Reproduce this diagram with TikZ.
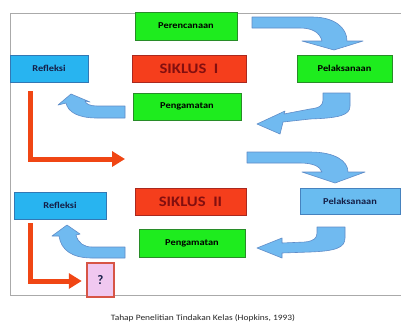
\documentclass[tikz,border=0pt]{standalone}
\usepackage{fontspec}
\setmainfont{Carlito}
\newfontfamily\lblfont[FakeStretch=1.15]{Carlito}
\usetikzlibrary{arrows.meta}
\definecolor{gbox}{RGB}{30,236,30}
\definecolor{gedge}{RGB}{40,140,40}
\definecolor{cbox}{RGB}{40,180,240}
\definecolor{cedge}{RGB}{50,120,180}
\definecolor{lbox}{RGB}{105,188,240}
\definecolor{ledge}{RGB}{70,130,190}
\definecolor{rbox}{RGB}{245,62,28}
\definecolor{redge}{RGB}{170,40,30}
\definecolor{rtext}{RGB}{130,15,15}
\definecolor{barfill}{RGB}{112,186,240}
\definecolor{baredge}{RGB}{95,140,200}
\definecolor{rarrow}{RGB}{240,70,20}
\definecolor{qfill}{RGB}{240,200,240}
\definecolor{qedge}{RGB}{215,85,70}
\definecolor{navy}{RGB}{20,30,70}
\definecolor{framec}{RGB}{170,170,170}
\tikzset{
  boxbase/.style={rectangle, line width=0.8pt, inner sep=0pt, font=\lblfont\fontsize{9}{10}\selectfont\bfseries},
  greenbox/.style={boxbase, fill=gbox, draw=gedge, text=black},
  cyanbox/.style={boxbase, fill=cbox, draw=cedge, text=navy},
  lightbox/.style={boxbase, fill=lbox, draw=ledge, text=navy},
  redbox/.style={rectangle, line width=0.8pt, inner sep=0pt, fill=rbox, draw=redge, text=rtext, font=\lblfont\fontsize{14.5}{16}\selectfont\bfseries},
  qbox/.style={rectangle, line width=2.5pt, inner sep=0pt, fill=qfill, draw=qedge, text=navy, font=\fontsize{13}{14}\selectfont\bfseries},
  blockarrow/.style={fill=barfill, draw=baredge, line width=0.6pt, line join=round},
  redline/.style={draw=rarrow, line width=5pt, line join=miter, -{Triangle[width=15pt,length=13pt]}},
}
\begin{document}
\begin{tikzpicture}[x=1pt,y=-1pt]
\useasboundingbox (0,0) rectangle (401,325);
\fill[white] (0,0) rectangle (401,325);
% frame
\draw[framec, line width=1pt] (10,13) rectangle (404,295);

% cycle 1
\node[greenbox, minimum width=102pt, minimum height=28pt] (per1) at (186,26) {Perencanaan};
\node[redbox, minimum width=114pt, minimum height=27pt] (sik1) at (189,68.5) {SIKLUS\ \ I};
\node[cyanbox, minimum width=78pt, minimum height=27pt] (ref1) at (49,68.5) {Refleksi};
\node[greenbox, minimum width=108pt, minimum height=27pt] (pen1) at (187,106.5) {Pengamatan};
\node[greenbox, minimum width=95pt, minimum height=27pt] (pel1) at (344.5,68.5) {Pelaksanaan};

% cycle 2
\node[cyanbox, minimum width=92pt, minimum height=27pt] (ref2) at (60,205.5) {Refleksi};
\node[redbox, minimum width=111pt, minimum height=27pt] (sik2) at (190.5,201.5) {SIKLUS\ \ II};
\node[lightbox, minimum width=100pt, minimum height=26pt] (pel2) at (350,201) {Pelaksanaan};
\node[greenbox, minimum width=106pt, minimum height=28pt] (pen2) at (192,243) {Pengamatan};
\node[qbox, minimum width=27pt, minimum height=34pt] (q) at (100.5,280) {?};

% block arrows cycle 1
\draw[blockarrow] (252,17) -- (312,17) .. controls (335,17) and (347,28) .. (347,41)
  -- (363,41) -- (334,50) -- (302,41) -- (322,41)
  .. controls (320,33) and (313,28) .. (300,28) -- (252,28) -- cycle;
\draw[blockarrow] (323,93) -- (350,93) -- (350,106) .. controls (350,115) and (340,118) .. (310,119)
  -- (283,122) -- (280,134) -- (257,124) -- (285,111) -- (284,114)
  -- (310,109) .. controls (320,108) and (323,105) .. (323,100) -- cycle;
\draw[blockarrow] (125,106) -- (97,106) .. controls (90,106) and (86,104) .. (85,101)
  -- (90,102) -- (71,94) -- (58,105) -- (66,103)
  .. controls (68,112) and (78,118) .. (97,118) -- (125,118) -- cycle;

% block arrow between cycles
\draw[blockarrow] (247,152) -- (310,152) .. controls (335,152) and (348,161) .. (348,172)
  -- (365,172) -- (335,183) -- (302,172) -- (322,172)
  .. controls (320,166) and (312,163) .. (300,163) -- (247,163) -- cycle;

% block arrows cycle 2
\draw[blockarrow] (317,227) -- (345,227) -- (345,238) .. controls (345,248) and (335,251) .. (310,252)
  -- (282,253) -- (282,258) -- (257,248) -- (282,238) -- (282,243)
  -- (305,242) .. controls (314,241) and (317,238) .. (317,233) -- cycle;
\draw[blockarrow] (125,247) -- (92,247) .. controls (84,247) and (78,243) .. (76,235)
  -- (80,234) -- (67,225) -- (52,236) -- (59,236)
  .. controls (61,250) and (72,258) .. (92,258) -- (125,258) -- cycle;

% red L arrows
\coordinate (r1s) at (30,91);
\coordinate (r1e) at (125,159);
\draw[redline] (r1s) |- (r1e);
\coordinate (r2s) at (30,223);
\draw[redline] (r2s) |- ([xshift=-4pt]q.west |- 0,281);

% caption
\node[font=\lblfont\fontsize{8.2}{9}\selectfont, text=black!85] (cap) at (203,318) {Tahap Penelitian Tindakan Kelas (Hopkins, 1993)};
\end{tikzpicture}
\end{document}
